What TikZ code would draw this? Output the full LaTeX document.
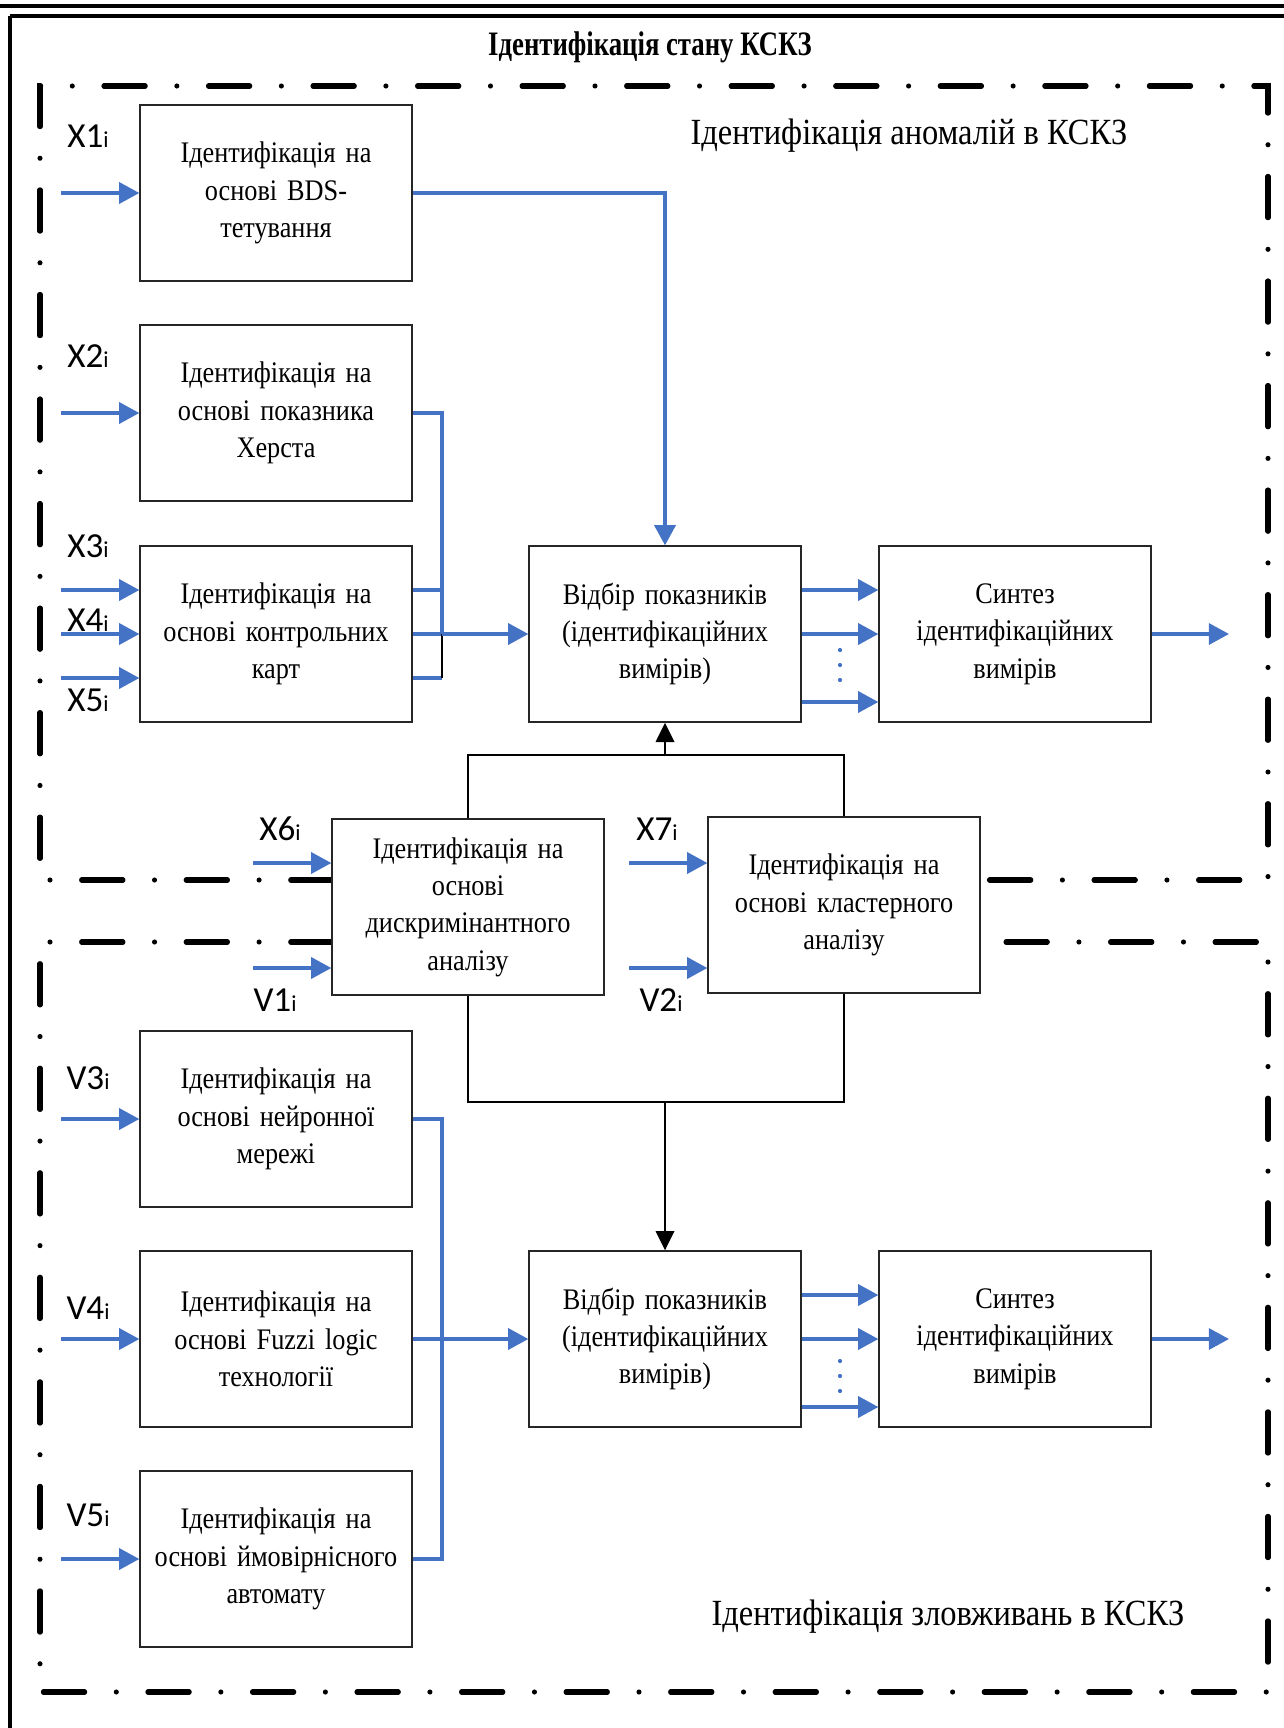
\documentclass[tikz,border=0pt]{standalone}
\usepackage{fontspec}
\setmainfont{Liberation Serif}[FakeStretch=0.88]
\newfontfamily\zagfont{Liberation Serif}[FakeStretch=0.78]
\newfontfamily\lblfont{Carlito}
\usetikzlibrary{arrows.meta}
\definecolor{sinij}{HTML}{4472C4}
\newcommand{\vhid}[1]{#1{\fontsize{13}{13}\selectfont i}}
\tikzset{
	blok/.style={draw=black!85, fill=white, line width=0.8pt, minimum width=5.44cm, minimum height=3.52cm, text width=5.3cm, align=center, inner sep=0pt, font=\fontsize{17}{21.3}\selectfont},
	vhidlbl/.style={font=\lblfont\fontsize{20}{20}\selectfont, inner sep=0pt},
	signal/.style={draw=sinij, line width=1.9pt},
	signalarr/.style={signal, -{Triangle[length=11.5pt,width=12pt]}},
	zvjazok/.style={draw=black, line width=1.2pt},
	zvjazokarr/.style={zvjazok, -{Triangle[length=11pt,width=10.5pt]}},
	ramka/.style={line width=2.9pt, line cap=round, dash pattern=on 23.5pt off 18pt on 0pt off 18pt}
}
\begin{document}
\begin{tikzpicture}[x=0.02cm, y=-0.02cm]
	\useasboundingbox (0,0) rectangle (1284,1728);
	
	\draw[line width=2.3pt] (0,6) -- (1284,6);
	\draw[line width=2.3pt] (10,16) -- (1284,16);
	\draw[line width=1.8pt] (10,16) -- (10,1728);
	
	\draw (650,47) node[font=\zagfont\bfseries\fontsize{19.5}{22}\selectfont] (zag)
	{
		Ідентифікація стану КСКЗ
	};
	
	\draw[ramka] (332,880) -- (40,880) -- (40,86) -- (1268,86) -- (1268,880) -- (980,880);
	\draw[ramka] (332,942) -- (40,942) -- (40,1692) -- (1268,1692) -- (1268,942) -- (980,942);
	
	\draw (909,136) node[font=\fontsize{21}{24}\selectfont] (anom)
	{
		Ідентифікація аномалій в КСКЗ
	};
	
	\draw (948,1617) node[font=\fontsize{21}{24}\selectfont] (zlov)
	{
		Ідентифікація зловживань в КСКЗ
	};
	
	\draw (276,193) node[blok] (bds)
	{
		Ідентифікація на \\
		основі BDS- \\
		тетування
	};
	
	\draw (276,413) node[blok] (herst)
	{
		Ідентифікація на \\
		основі показника \\
		Херста
	};
	
	\draw (276,634) node[blok] (karty)
	{
		Ідентифікація на \\
		основі контрольних \\
		карт
	};
	
	\draw (665,634) node[blok] (vidbir1)
	{
		Відбір показників \\
		(ідентифікаційних \\
		вимірів)
	};
	
	\draw (1015,634) node[blok] (syntez1)
	{
		Синтез \\
		ідентифікаційних \\
		вимірів
	};
	
	\draw (468,907) node[blok] (dyskr)
	{
		Ідентифікація на \\
		основі \\
		дискримінантного \\
		аналізу
	};
	
	\draw (844,905) node[blok] (klaster)
	{
		Ідентифікація на \\
		основі кластерного \\
		аналізу
	};
	
	\draw (276,1119) node[blok] (nejron)
	{
		Ідентифікація на \\
		основі нейронної \\
		мережі
	};
	
	\draw (276,1339) node[blok] (fuzzi)
	{
		Ідентифікація на \\
		основі Fuzzi logic \\
		технології
	};
	
	\draw (276,1559) node[blok] (avtomat)
	{
		Ідентифікація на \\
		основі ймовірнісного \\
		автомату
	};
	
	\draw (665,1339) node[blok] (vidbir2)
	{
		Відбір показників \\
		(ідентифікаційних \\
		вимірів)
	};
	
	\draw (1015,1339) node[blok] (syntez2)
	{
		Синтез \\
		ідентифікаційних \\
		вимірів
	};
	
	\draw (88,136) node[vhidlbl] (lx1) {\vhid{X1}};
	\draw (88,356) node[vhidlbl] (lx2) {\vhid{X2}};
	\draw (88,546) node[vhidlbl] (lx3) {\vhid{X3}};
	\draw (88,620) node[vhidlbl] (lx4) {\vhid{X4}};
	\draw (88,700) node[vhidlbl] (lx5) {\vhid{X5}};
	\draw (280,829) node[vhidlbl] (lx6) {\vhid{X6}};
	\draw (275,1000) node[vhidlbl] (lv1) {\vhid{V1}};
	\draw (657,829) node[vhidlbl] (lx7) {\vhid{X7}};
	\draw (661,1000) node[vhidlbl] (lv2) {\vhid{V2}};
	\draw (88,1078) node[vhidlbl] (lv3) {\vhid{V3}};
	\draw (88,1308) node[vhidlbl] (lv4) {\vhid{V4}};
	\draw (88,1515) node[vhidlbl] (lv5) {\vhid{V5}};
	
	\coordinate (x1) at (61,193);
	\coordinate (x2) at (61,413);
	\coordinate (x3) at (61,590);
	\coordinate (x4) at (61,634);
	\coordinate (x5) at (61,678);
	\coordinate (x6) at (253,863);
	\coordinate (v1) at (253,968);
	\coordinate (x7) at (629,863);
	\coordinate (v2) at (629,968);
	\coordinate (v3) at (61,1119);
	\coordinate (v4) at (61,1339);
	\coordinate (v5) at (61,1559);
	
	\draw[signalarr] (x1) -- (bds.west);
	\draw[signalarr] (x2) -- (herst.west);
	\draw[signalarr] (x3) -- (x3 -| karty.west);
	\draw[signalarr] (x4) -- (karty.west);
	\draw[signalarr] (x5) -- (x5 -| karty.west);
	\draw[signalarr] (x6) -- (x6 -| dyskr.west);
	\draw[signalarr] (v1) -- (v1 -| dyskr.west);
	\draw[signalarr] (x7) -- (x7 -| klaster.west);
	\draw[signalarr] (v2) -- (v2 -| klaster.west);
	\draw[signalarr] (v3) -- (nejron.west);
	\draw[signalarr] (v4) -- (fuzzi.west);
	\draw[signalarr] (v5) -- (avtomat.west);
	
	\coordinate (shyna1) at (442,634);
	\coordinate (shyna1k) at (442,678);
	\draw[signalarr] (bds.east) -| (vidbir1.north);
	\draw[signal] (herst.east) -| (shyna1);
	\draw[signal] (x3 -| karty.east) -- (x3 -| shyna1);
	\draw[signal] (karty.east) -- (shyna1);
	\draw[signal] (x5 -| karty.east) -- (shyna1k);
	\draw[zvjazok] (shyna1) -- (shyna1k);
	\draw[signalarr] (shyna1) -- (vidbir1.west);
	
	\draw[signalarr] ([yshift=0.88cm]vidbir1.east) -- ([yshift=0.88cm]syntez1.west);
	\draw[signalarr] (vidbir1.east) -- (syntez1.west);
	\draw[signalarr] ([yshift=-1.36cm]vidbir1.east) -- ([yshift=-1.36cm]syntez1.west);
	\fill[sinij] (840,650) circle (1.2pt) (840,665) circle (1.2pt) (840,680) circle (1.2pt);
	\coordinate (vyh1) at (1229,634);
	\draw[signalarr] (syntez1.east) -- (vyh1);
	
	\coordinate (vuzol1) at (665,755);
	\coordinate (vuzol2) at (665,1102);
	\draw[zvjazok] (dyskr.north) |- (vuzol1) -| (klaster.north);
	\draw[zvjazokarr] (vuzol1) -- (vidbir1.south);
	\draw[zvjazok] (dyskr.south) |- (vuzol2) -| (klaster.south);
	\draw[zvjazokarr] (vuzol2) -- (vidbir2.north);
	
	\coordinate (shyna2) at (442,1339);
	\draw[signal] (nejron.east) -| (shyna2);
	\draw[signal] (avtomat.east) -| (shyna2);
	\draw[signalarr] (fuzzi.east) -- (vidbir2.west);
	
	\draw[signalarr] ([yshift=0.88cm]vidbir2.east) -- ([yshift=0.88cm]syntez2.west);
	\draw[signalarr] (vidbir2.east) -- (syntez2.west);
	\draw[signalarr] ([yshift=-1.36cm]vidbir2.east) -- ([yshift=-1.36cm]syntez2.west);
	\fill[sinij] (840,1361) circle (1.2pt) (840,1376) circle (1.2pt) (840,1391) circle (1.2pt);
	\coordinate (vyh2) at (1229,1339);
	\draw[signalarr] (syntez2.east) -- (vyh2);
\end{tikzpicture}
\end{document}
